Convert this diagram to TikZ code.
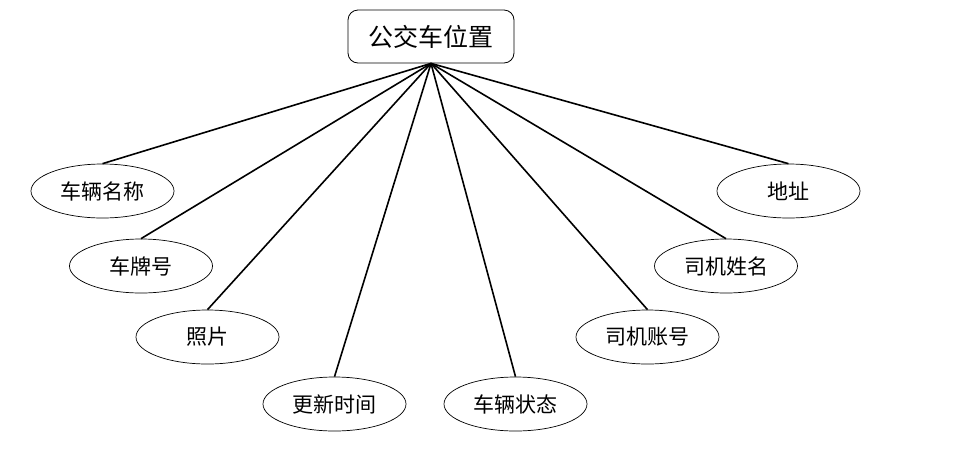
\documentclass[tikz,border=0pt]{standalone}
\usepackage{fontspec}
\newfontfamily\cjk{Noto Sans CJK SC}
\usepackage{tikz}
\usetikzlibrary{positioning,shapes.geometric}
\tikzset{
  entity/.style={
    rectangle, rounded corners=10pt, draw=black, fill=white,
    minimum width=166pt, minimum height=53pt, inner sep=0pt,
    font=\cjk\fontsize{25}{25}\selectfont, line width=0.8pt
  },
  attr/.style={
    ellipse, draw=black, fill=white,
    minimum width=143pt, minimum height=54pt, inner sep=0pt,
    font=\cjk\fontsize{21}{21}\selectfont, line width=0.7pt
  },
  link/.style={
    line width=1.6pt, black
  }
}
\begin{document}
\begin{tikzpicture}[x=1pt,y=-1pt]
\useasboundingbox (0,0) rectangle (969,451);
\node[entity] (bus) at (431,36.5) {公交车位置};

\node[attr] (name) at (102.5,191) {车辆名称};
\node[attr] (plate) at (141,266) {车牌号};
\node[attr] (photo) at (207.5,337) {照片};
\node[attr] (updtime) at (334.5,404) {更新时间};
\node[attr] (status) at (515.5,404) {车辆状态};
\node[attr] (account) at (647.5,337) {司机账号};
\node[attr] (driver) at (726,266) {司机姓名};
\node[attr] (addr) at (788.5,191) {地址};

\draw[link] (bus.south) -- (name.north);
\draw[link] (bus.south) -- (plate.north);
\draw[link] (bus.south) -- (photo.north);
\draw[link] (bus.south) -- (updtime.north);
\draw[link] (bus.south) -- (status.north);
\draw[link] (bus.south) -- (account.north);
\draw[link] (bus.south) -- (driver.north);
\draw[link] (bus.south) -- (addr.north);
\end{tikzpicture}
\end{document}
